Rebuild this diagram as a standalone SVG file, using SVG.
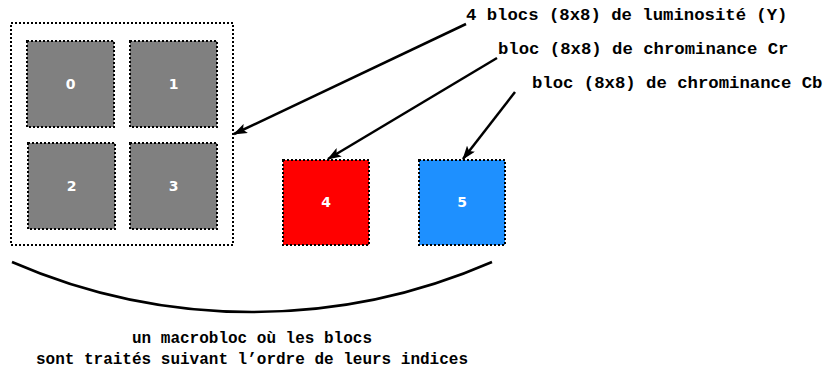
<svg xmlns="http://www.w3.org/2000/svg" width="828" height="371" viewBox="0 0 828 371">
<style>
.bg{fill:#ffffff}
.frame{fill:none;stroke:#000;stroke-width:2;stroke-dasharray:2 2;shape-rendering:crispEdges}
.blk{stroke:#000;stroke-width:2;stroke-dasharray:2 2;shape-rendering:crispEdges}
.grey{fill:#808080}
.red{fill:#ff0000}
.blue{fill:#1e90ff}
.num{font-family:"DejaVu Sans",sans-serif;font-size:14px;font-weight:bold;fill:#ffffff;text-anchor:middle}
.lbl{font-family:"Liberation Mono","Courier New",monospace;font-size:17.3px;font-weight:bold;fill:#000}
.cap{font-family:"Liberation Mono","Courier New",monospace;font-size:16px;font-weight:bold;fill:#000;text-anchor:middle}
.conn{fill:none;stroke:#000;stroke-width:2.5}
</style>
<defs>
<marker id="arr" viewBox="0 0 14 10" refX="13" refY="5" markerWidth="14" markerHeight="10" markerUnits="userSpaceOnUse" orient="auto">
<path d="M0,0 L14,5 L0,10 L3,5 z" fill="#000"/>
</marker>
</defs>
<rect class="bg" x="0" y="0" width="828" height="371"/>
<g id="macro">
<rect class="frame" x="11" y="23" width="222" height="222"/>
</g>
<g id="b0"><rect class="blk grey" x="27" y="41" width="87" height="86"/><text class="num" x="70.5" y="89">0</text></g>
<g id="b1"><rect class="blk grey" x="130" y="41" width="87" height="86"/><text class="num" x="173.5" y="89">1</text></g>
<g id="b2"><rect class="blk grey" x="28" y="143" width="87" height="86"/><text class="num" x="71.5" y="191">2</text></g>
<g id="b3"><rect class="blk grey" x="130" y="143" width="87" height="86"/><text class="num" x="173.5" y="191">3</text></g>
<g id="b4"><rect class="blk red" x="283" y="160" width="86" height="85"/><text class="num" x="326" y="207">4</text></g>
<g id="b5"><rect class="blk blue" x="419" y="160" width="86" height="85"/><text class="num" x="462" y="207">5</text></g>
<g id="labels">
<text class="lbl" x="466" y="20">4 blocs (8x8) de luminosité (Y)</text>
<text class="lbl" x="498" y="54">bloc (8x8) de chrominance Cr</text>
<text class="lbl" x="532" y="88">bloc (8x8) de chrominance Cb</text>
<text class="cap" x="252" y="343">un macrobloc où les blocs</text>
<text class="cap" x="252" y="364">sont traités suivant l’ordre de leurs indices</text>
</g>
<g id="connectors">
<line class="conn" x1="466" y1="24" x2="234" y2="134" marker-end="url(#arr)"/>
<line class="conn" x1="497" y1="58" x2="328" y2="159" marker-end="url(#arr)"/>
<line class="conn" x1="515" y1="92" x2="463" y2="159" marker-end="url(#arr)"/>
<path class="conn" d="M12,262 A601,601 0 0 0 492,262"/>
</g>
</svg>
